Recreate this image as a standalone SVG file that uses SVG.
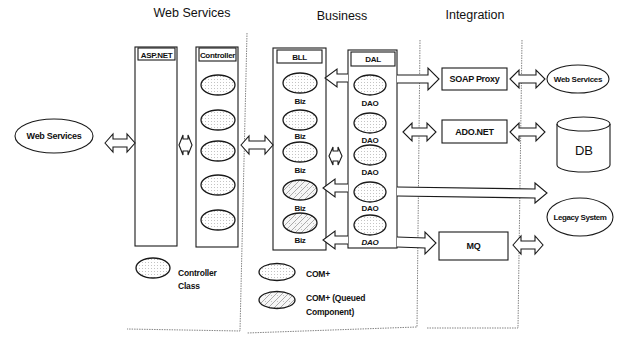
<svg xmlns="http://www.w3.org/2000/svg" width="634" height="340" viewBox="0 0 634 340">
<defs>
<pattern id="dots" patternUnits="userSpaceOnUse" width="3" height="3">
<rect width="3" height="3" fill="#ffffff"/>
<rect x="1" y="1" width="1" height="1" fill="#c4c4c4"/>
</pattern>
<pattern id="hatch" patternUnits="userSpaceOnUse" width="6" height="6">
<rect width="6" height="6" fill="#f6f6f6"/>
<rect x="1" y="1" width="1" height="1" fill="#c4c4c4"/>
<path d="M0,6 L6,0 M-1,1 L1,-1 M5,7 L7,5" stroke="#8a8a8a" stroke-width="0.7"/>
</pattern>
</defs>
<style>
.t{font-family:"Liberation Sans",Arial,sans-serif;fill:#111;}
.title{font-size:12.5px;text-anchor:middle;}
.lbl{font-size:9px;font-weight:bold;text-anchor:middle;letter-spacing:-0.3px;}
.hd{font-size:8px;font-weight:bold;text-anchor:middle;letter-spacing:-0.3px;}
.sm{font-size:8px;text-anchor:middle;letter-spacing:-0.3px;font-weight:bold;}
.lg{font-size:8.5px;font-weight:bold;letter-spacing:-0.2px;}
.box{fill:#fff;stroke:#1a1a1a;stroke-width:1.1;}
.cls{fill:url(#dots);stroke:#1a1a1a;stroke-width:1.3;}
.que{fill:url(#hatch);stroke:#1a1a1a;stroke-width:1.3;}
.arr{fill:#fff;stroke:#1a1a1a;stroke-width:1.1;stroke-linejoin:miter;}
.div{fill:none;stroke:#666;stroke-width:0.8;stroke-dasharray:1.5 1;}
</style>

<g id="titles">
<text class="t title" x="192" y="17">Web Services</text>
<text class="t title" x="342" y="20">Business</text>
<text class="t title" x="475" y="19">Integration</text>
</g>

<g id="dividers">
<path class="div" d="M247,33 L240,331 L127,329"/>
<path class="div" d="M420,40 L417,327 L247,333"/>
<path class="div" d="M522,40 L518,328 L427,328"/>
</g>

<g id="ws-client">
<ellipse class="box" cx="54" cy="136" rx="39" ry="17"/>
<text class="t lbl" x="54" y="139">Web Services</text>
</g>

<g id="aspnet">
<rect class="box" x="135" y="47" width="42" height="199"/>
<rect class="box" x="138" y="48" width="37" height="12"/>
<text class="t hd" x="156.5" y="57.5">ASP.NET</text>
</g>

<g id="controller">
<rect class="box" x="196" y="47" width="42" height="200"/>
<rect class="box" x="199" y="48" width="37" height="13"/>
<text class="t hd" x="217.5" y="58">Controller</text>
<ellipse class="cls" cx="218" cy="85" rx="17" ry="10"/>
<ellipse class="cls" cx="218" cy="120" rx="17" ry="10"/>
<ellipse class="cls" cx="218" cy="151" rx="17" ry="10"/>
<ellipse class="cls" cx="218" cy="185" rx="17" ry="10"/>
<ellipse class="cls" cx="218" cy="220" rx="17" ry="10"/>
</g>

<g id="bll">
<rect class="box" x="273" y="48" width="53" height="202"/>
<rect class="box" x="277" y="50" width="45" height="13"/>
<text class="t hd" x="299.5" y="60">BLL</text>
<ellipse class="cls" cx="300" cy="83" rx="17" ry="10"/>
<text class="t sm" x="300" y="104">Biz</text>
<ellipse class="cls" cx="300" cy="120" rx="17" ry="10"/>
<text class="t sm" x="300" y="139">Biz</text>
<ellipse class="cls" cx="300" cy="152" rx="17" ry="10"/>
<text class="t sm" x="300" y="173">Biz</text>
<ellipse class="que" cx="300" cy="190" rx="17" ry="10"/>
<text class="t sm" x="300" y="211">Biz</text>
<ellipse class="que" cx="300" cy="223" rx="17" ry="10"/>
<text class="t sm" x="300" y="243">Biz</text>
</g>

<g id="dal">
<rect class="box" x="348" y="50" width="49" height="198"/>
<rect class="box" x="351" y="52" width="44" height="14"/>
<text class="t hd" x="373" y="62">DAL</text>
<ellipse class="cls" cx="370" cy="85" rx="16" ry="10"/>
<text class="t sm" x="370" y="106">DAO</text>
<ellipse class="cls" cx="370" cy="123" rx="16" ry="10"/>
<text class="t sm" x="370" y="143">DAO</text>
<ellipse class="cls" cx="370" cy="155" rx="16" ry="10"/>
<text class="t sm" x="370" y="175">DAO</text>
<ellipse class="cls" cx="370" cy="192" rx="16" ry="10"/>
<text class="t sm" x="370" y="211">DAO</text>
<ellipse class="cls" cx="370" cy="225" rx="16" ry="10"/>
<text class="t sm" x="370" y="245" font-style="italic">DAO</text>
</g>

<g id="soap-proxy">
<rect class="box" x="442" y="68" width="65" height="22"/>
<text class="t lbl" x="474.5" y="82">SOAP Proxy</text>
</g>

<g id="adonet">
<rect class="box" x="442" y="120" width="65" height="23"/>
<text class="t lbl" x="474.5" y="135">ADO.NET</text>
</g>

<g id="mq">
<rect class="box" x="439" y="232" width="69" height="28"/>
<text class="t lbl" x="473.5" y="249">MQ</text>
</g>

<g id="ws-ext">
<ellipse class="box" cx="578" cy="79" rx="31" ry="14"/>
<text class="t lbl" x="578" y="82" style="font-size:8px">Web Services</text>
</g>

<g id="db">
<path class="box" d="M557,124 A26.5,7 0 0,1 610,124 L610,165 A26.5,7 0 0,1 557,165 Z"/>
<path fill="none" stroke="#1a1a1a" stroke-width="1.1" d="M557,124 A26.5,7 0 0,0 610,124"/>
<text class="t" x="584" y="155" style="font-size:13px;text-anchor:middle">DB</text>
</g>

<g id="legacy">
<ellipse class="box" cx="580" cy="217" rx="33" ry="19"/>
<text class="t lbl" x="580" y="220" style="font-size:8px;letter-spacing:-0.4px">Legacy System</text>
</g>

<g id="connectors">
<path class="arr" d="M105,143 L113,134 L113,139 L127,139 L127,134 L135,143 L127,152 L127,147 L113,147 L113,152 Z"/>
<path class="arr" d="M179,145 L183,135 L183,139 L188,139 L188,135 L192,145 L188,155 L188,151 L183,151 L183,155 Z"/>
<path class="arr" d="M241,145 L249,136 L249,141 L265,141 L265,136 L273,145 L265,154 L265,149 L249,149 L249,154 Z"/>
<path class="arr" d="M329,156 L333,147 L333,151 L338,151 L338,147 L342,156 L338,165 L338,161 L333,161 L333,165 Z"/>
<path class="arr" d="M348,74 L337,74 L337,69 L325,78 L337,87 L337,82 L348,82"/>
<path class="arr" d="M348,184 L335,184 L335,179 L323,188 L335,197 L335,192 L348,192"/>
<path class="arr" d="M348,236 L335,236 L335,231 L323,240 L335,249 L335,244 L348,244"/>
<path class="arr" d="M397,75 L428,75 L428,68 L439,79 L428,90 L428,83 L397,83"/>
<path class="arr" d="M397,187 L535,189 L535,183 L547,193 L535,203 L535,198 L397,196"/>
<path class="arr" d="M397,237 L425,238 L425,232 L436,243 L425,254 L425,248 L397,247"/>
<path class="arr" d="M403,132 L412,123 L412,128 L427,128 L427,123 L436,132 L427,141 L427,136 L412,136 L412,141 Z"/>
<path class="arr" d="M510,79 L519,70 L519,75 L536,75 L536,70 L545,79 L536,88 L536,83 L519,83 L519,88 Z"/>
<path class="arr" d="M510,132 L519,123 L519,128 L536,128 L536,123 L545,132 L536,141 L536,136 L519,136 L519,141 Z"/>
<path class="arr" d="M513,245 L521,236 L521,241 L535,241 L535,236 L543,245 L535,254 L535,249 L521,249 L521,254 Z"/>
</g>

<g id="legend">
<ellipse class="cls" cx="153" cy="268" rx="17" ry="10"/>
<text class="t lg" x="178" y="276">Controller</text>
<text class="t lg" x="178" y="289">Class</text>
<ellipse class="cls" cx="277" cy="272" rx="18" ry="8.5"/>
<text class="t lg" x="306" y="277">COM+</text>
<ellipse class="que" cx="277" cy="300" rx="18" ry="8.5"/>
<text class="t lg" x="306" y="301">COM+ (Queued</text>
<text class="t lg" x="306" y="315">Component)</text>
</g>
</svg>
